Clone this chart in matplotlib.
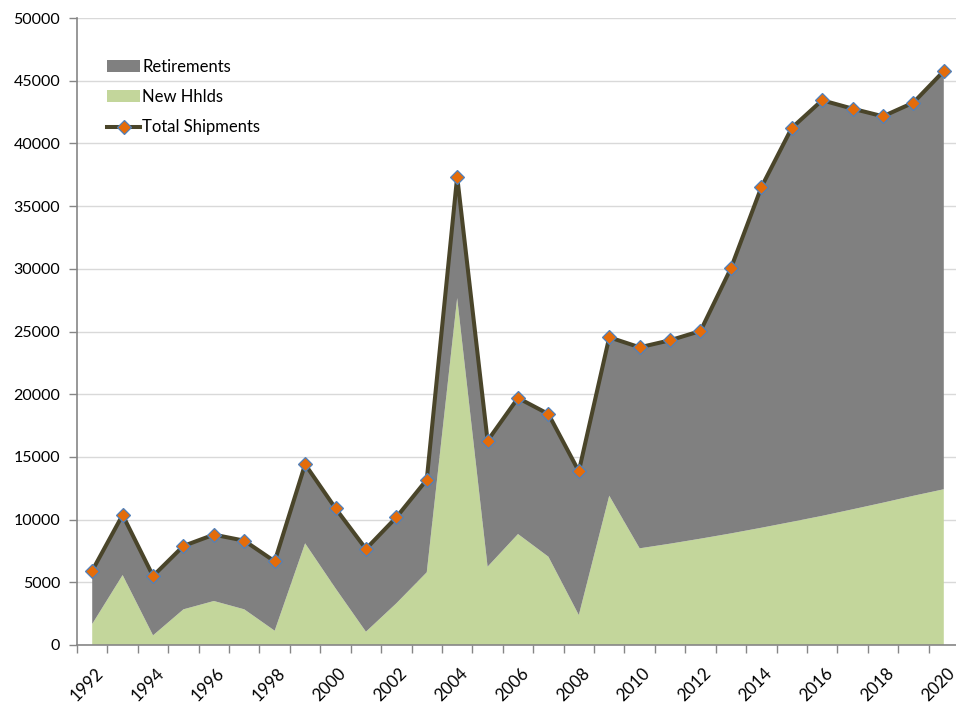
import matplotlib
matplotlib.use("Agg")
import matplotlib.pyplot as plt
import matplotlib.transforms as mtransforms
import numpy as np
from matplotlib.lines import Line2D
from matplotlib.patches import Patch

years = list(range(1992, 2021))
new_hhlds = [1675, 5580, 770, 2845, 3510, 2845, 1140, 8110, 4520, 1060, 3325, 5800,
             27670, 6245, 8850, 7040, 2390, 11910, 7710, 8080, 8480, 8900, 9350,
             9820, 10300, 10820, 11350, 11900, 12420]
retirements = [4250, 4790, 4730, 5055, 5290, 5475, 5530, 6300, 6380, 6600, 6855, 7380,
               9680, 10045, 10850, 11380, 11460, 12630, 16030, 16220, 16560, 21140,
               27150, 31410, 33140, 31950, 30810, 31350, 33350]
tick_labels = [str(y) for y in years[::2]]
yticks = list(range(0, 50001, 5000))

plt.rcParams['font.family'] = ['Lato', 'DejaVu Sans']

fig = plt.figure(figsize=(9.56, 7.03), dpi=100)
ax = fig.add_axes([77/956, 58/703, (959-77)/956, 627/703])

x = np.arange(len(years))
new_arr = np.array(new_hhlds)
ret_arr = np.array(retirements)
total = new_arr + ret_arr

green = '#C3D69B'
grey = '#808080'
line_c = '#4A452A'
ax.stackplot(x, new_arr, ret_arr, colors=[green, grey], linewidth=0, zorder=2)
ax.plot(x, total, color=line_c, lw=2.9, marker='D', markersize=7,
        markerfacecolor='#E46C0A', markeredgecolor='#4F81BD', markeredgewidth=0.9,
        zorder=4, clip_on=False)

ax.set_xlim(-0.5, len(years) - 0.5)
ax.set_ylim(0, 50000)
ax.set_yticks(yticks)
ax.set_yticklabels([str(v) for v in yticks])
ax.yaxis.grid(True, color='#D9D9D9', lw=1.0)
ax.set_axisbelow(True)

ax.set_xticks(x[::2])
ax.set_xticklabels(tick_labels, rotation=45, ha='right', va='top', rotation_mode='anchor')
ax.set_xticks(np.arange(-0.5, len(years), 1.0), minor=True)
ax.tick_params(axis='x', which='major', length=0, pad=14.5, labelsize=12.2, colors='#000000')
ax.tick_params(axis='x', which='minor', length=6, width=1, color='#868686', direction='out')
ax.tick_params(axis='y', length=6, width=1, color='#868686', direction='out', pad=6,
               labelsize=11.5)
offset = mtransforms.ScaledTranslation(0.025, 0, fig.dpi_scale_trans)
for lbl in ax.get_xticklabels():
    lbl.set_transform(lbl.get_transform() + offset)

for s in ['top', 'right']:
    ax.spines[s].set_visible(False)
for s in ['left', 'bottom']:
    ax.spines[s].set_color('#868686')
    ax.spines[s].set_linewidth(1.2)

handles = [Patch(facecolor=grey, edgecolor='none'),
           Patch(facecolor=green, edgecolor='none'),
           Line2D([0], [0], color=line_c, lw=2.9, marker='D', markersize=7,
                  markerfacecolor='#E46C0A', markeredgecolor='#4F81BD', markeredgewidth=0.9)]
leg = ax.legend(handles, ['Retirements', 'New Hhlds', 'Total Shipments'],
                loc='upper left', bbox_to_anchor=(107/956, 1 - 59/703),
                bbox_transform=fig.transFigure, frameon=False, fontsize=12,
                handlelength=2.0, handleheight=0.7, handletextpad=0.1,
                labelspacing=0.85, borderaxespad=0, borderpad=0)

fig.savefig('out.png', dpi=100)
